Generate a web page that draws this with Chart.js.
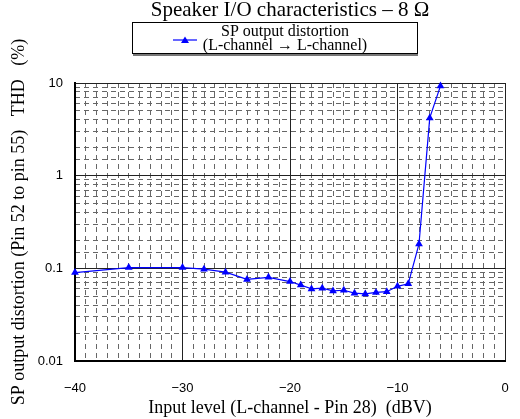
<!DOCTYPE html>
<html>
<head>
<meta charset="utf-8">
<script src="https://cdn.jsdelivr.net/npm/chart.js@4"></script>
<style>
html,body{margin:0;padding:0;background:#fff;}
#wrap{width:520px;height:419px;}
</style>
</head>
<body>
<div id="wrap"><canvas id="c" width="520" height="419"></canvas></div>
<script>
const inputLevels = [-40,-35,-30,-28,-26,-24,-22,-20,-19,-18,-17,-16,-15,-14,-13,-12,-11,-10,-9,-8,-7,-6];
const thdValues   = [0.090,0.102,0.102,0.098,0.091,0.076,0.080,0.072,0.066,0.060,0.061,0.057,0.058,0.054,0.053,0.055,0.056,0.064,0.068,0.183,4.2,9.3];
const xTickLabels = {'-40':'\u221240','-30':'\u221230','-20':'\u221220','-10':'\u221210','0':'0'};
const yTickLabels = {'-2':'0.01','-1':'0.1','0':'1','1':'10'};
const titleText = 'Speaker I/O characteristics \u2013 8 \u03A9';
const seriesLabel = ['SP output distortion','(L-channel \u2192 L-channel)'];
const xTitle = 'Input level (L-channel - Pin 28)  (dBV)';
const yTitle = 'SP output distortion (Pin 52 to pin 55)   THD   (%)';

const SERIF = '"Liberation Serif", "Times New Roman", serif';
const SANS = '"Liberation Sans", Arial, sans-serif';
const BLUE = '#0000ff';

const isDecade = v => { const l = Math.log10(v); return Math.abs(l - Math.round(l)) < 1e-6; };
const isTen = v => Math.abs(v / 10 - Math.round(v / 10)) < 1e-9;

const legendBox = {
  id: 'legendBox',
  afterDraw(chart) {
    const ctx = chart.ctx;
    const ds = chart.data.datasets[0];
    ctx.save();
    ctx.fillStyle = '#fff';
    ctx.fillRect(132, 22, 285, 31);
    ctx.strokeStyle = '#000';
    ctx.lineWidth = 1;
    ctx.strokeRect(132.5, 22.5, 285, 31);
    ctx.strokeStyle = '#777';
    ctx.lineWidth = 2;
    ctx.beginPath(); ctx.moveTo(133, 55); ctx.lineTo(418, 55); ctx.stroke();
    ctx.strokeStyle = ds.borderColor;
    ctx.lineWidth = ds.borderWidth;
    ctx.beginPath(); ctx.moveTo(173, 40); ctx.lineTo(197, 40); ctx.stroke();
    ctx.fillStyle = ds.backgroundColor;
    ctx.beginPath();
    ctx.moveTo(185, 36.5); ctx.lineTo(189, 43); ctx.lineTo(181, 43); ctx.closePath(); ctx.fill();
    ctx.fillStyle = '#000';
    ctx.font = '16px ' + SERIF;
    ctx.textAlign = 'center';
    ctx.textBaseline = 'middle';
    ctx.fillText(seriesLabel[0], 285, 32);
    ctx.fillText(seriesLabel[1], 285, 46);
    ctx.restore();
  }
};

new Chart(document.getElementById('c'), {
  type: 'line',
  data: {
    datasets: [{
      label: seriesLabel.join(' '),
      data: inputLevels.map((x, i) => ({x: x, y: thdValues[i]})),
      borderColor: BLUE,
      backgroundColor: BLUE,
      borderWidth: 1.2,
      pointStyle: 'triangle',
      pointRadius: 4.5,
      pointHoverRadius: 4.5,
      pointBackgroundColor: BLUE,
      pointBorderColor: BLUE,
      pointBorderWidth: 0,
      tension: 0,
      clip: false,
      xAxisID: 'x',
      yAxisID: 'y'
    }]
  },
  options: {
    responsive: false,
    animation: false,
    devicePixelRatio: 1,
    layout: {padding: {left: 0, right: 15, top: 0, bottom: 0}},
    plugins: {
      legend: {display: false},
      tooltip: {enabled: false},
      title: {
        display: true,
        text: titleText,
        fullSize: false,
        color: '#000',
        font: {family: SERIF, size: 21, weight: 'normal', lineHeight: 1},
        padding: {top: 0, bottom: 62}
      }
    },
    scales: {
      x2: {
        type: 'linear', position: 'bottom', min: -40, max: 0,
        afterFit(s) { s.height = 0; s.paddingLeft = 0; s.paddingRight = 0; },
        ticks: {display: false, stepSize: 1, autoSkip: false},
        grid: {drawTicks: false, color: c => isTen(c.tick.value) ? 'rgba(0,0,0,0)' : '#666', lineWidth: 1},
        border: {display: false, dash: [5, 4]}
      },
      y2: {
        type: 'logarithmic', position: 'left', min: 0.01, max: 10,
        afterFit(s) { s.width = 0; },
        ticks: {display: false, autoSkip: false},
        grid: {drawTicks: false, color: c => isDecade(c.tick.value) ? 'rgba(0,0,0,0)' : '#666', lineWidth: 1},
        border: {display: false, dash: [5, 4]}
      },
      x: {
        type: 'linear', position: 'bottom', min: -40, max: 0,
        afterFit(s) { s.height = 58; s.paddingLeft = 0; s.paddingRight = 4; },
        ticks: {
          stepSize: 10, autoSkip: false, color: '#000', padding: 20,
          font: {family: SANS, size: 13},
          callback: v => xTickLabels[String(Math.round(v))] ?? ''
        },
        grid: {drawTicks: false, color: '#222', lineWidth: 1},
        border: {display: true, color: '#000', width: 2},
        title: {display: true, text: xTitle, color: '#000', font: {family: SERIF, size: 18}, padding: {top: 0, bottom: 0}}
      },
      y: {
        type: 'logarithmic', position: 'left', min: 0.01, max: 10,
        afterFit(s) { s.width = 75; },
        ticks: {
          autoSkip: false, color: '#000', padding: 12,
          font: {family: SANS, size: 13},
          callback: v => isDecade(v) ? (yTickLabels[String(Math.round(Math.log10(v)))] ?? '') : ''
        },
        grid: {drawTicks: false, color: c => isDecade(c.tick.value) ? '#222' : 'rgba(0,0,0,0)', lineWidth: 1},
        border: {display: true, color: '#000', width: 2},
        title: {display: true, text: yTitle, color: '#000', font: {family: SERIF, size: 18}, padding: {top: 8, bottom: 0}}
      }
    }
  },
  plugins: [legendBox]
});
</script>
</body>
</html>
